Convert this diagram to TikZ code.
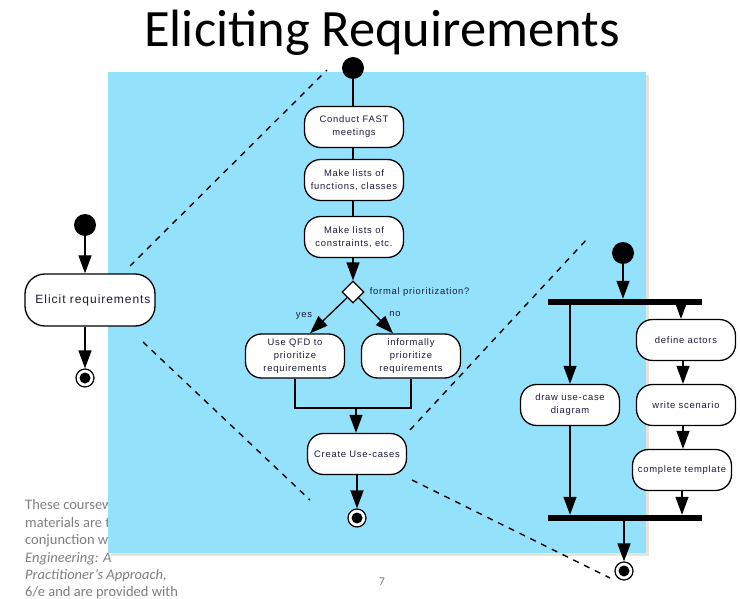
\documentclass[tikz,border=0pt]{standalone}
\usepackage{fontspec}
\setmainfont{Liberation Sans}
\newfontfamily\titlefont{Carlito}
\newfontfamily\actlabel[LetterSpace=8]{Liberation Sans}
\usetikzlibrary{arrows.meta,shapes.geometric}

\definecolor{panelblue}{HTML}{94E1FB}
\definecolor{panelshadow}{HTML}{E4E4DA}
\definecolor{notegray}{HTML}{7F7F7F}
\definecolor{labelink}{HTML}{1C1C3A}

\tikzset{
  act/.style={draw, line width=1.3pt, fill=white, rounded corners=16pt,
    minimum width=99pt, minimum height=41pt, inner sep=2pt, align=center,
    text=labelink, font=\actlabel\fontsize{9.4}{13}\selectfont},
  initial/.style={circle, fill=black, minimum size=22pt, inner sep=0pt},
  final/.style={circle, draw, line width=1.2pt, fill=white, minimum size=18pt,
    inner sep=0pt, path picture={\fill[black] (path picture bounding box.center) circle (5.5pt);}},
  decision/.style={diamond, draw, line width=1.2pt, fill=white,
    minimum width=22pt, minimum height=22pt, inner sep=0pt},
  syncbar/.style={rectangle, fill=black, minimum width=154pt, minimum height=6pt, inner sep=0pt},
  flow/.style={line width=1.3pt},
  arr/.style={line width=1.3pt, -{Triangle[length=18pt,width=13pt]}},
  zoomline/.style={line width=1.4pt, dash pattern=on 6pt off 6pt},
  small/.style={text=labelink, font=\actlabel\fontsize{9.4}{11}\selectfont, inner sep=1pt},
  note/.style={anchor=base west, text=notegray, inner sep=0pt, font=\titlefont\fontsize{14.5}{17}\selectfont},
  noteit/.style={note, font=\titlefont\itshape\fontsize{14.5}{17}\selectfont},
}

\begin{document}
\begin{tikzpicture}[x=1pt, y=-1pt]
\useasboundingbox (0,0) rectangle (740,599);
\fill[white] (0,0) rectangle (740,599);

% slide title
\node[anchor=base, inner sep=0pt, font=\titlefont\fontsize{52.5}{60}\selectfont] (title) at (382,47) {Eliciting Requirements};

% footnote text running underneath the panel
\node[note] (n1) at (25,509) {These coursew};
\node[note] (n2) at (25,527) {materials are t};
\node[note] (n3) at (25,544) {conjunction w};
\node[noteit] (n4) at (25,562) {Engineering: A};
\node[noteit] (n5) at (25,579) {Practitioner’s Approach,};
\node[note] (n6) at (25,596) {6/e and are provided with};
\node[anchor=base, text=notegray, inner sep=0pt, font=\titlefont\fontsize{12}{14}\selectfont] (pageno) at (382,585) {7};

% blue panel with its shadow
\fill[panelshadow] (111,75) rectangle (649,556);
\fill[panelblue] (108,72) rectangle (646,553);

% ---- left: the single activity ----
\node[initial] (l0) at (85,225) {};
\node[act, minimum width=130pt, minimum height=52pt, rounded corners=20pt,
      font=\actlabel\fontsize{12}{14}\selectfont] (elicit) at (90,300) {\hspace*{6pt}Elicit requirements};
\node[final] (lf) at (85,378) {};
\draw[arr] (l0) -- (l0 |- elicit.north);
\draw[arr] (lf |- elicit.south) -- (lf);

% ---- centre: expansion of the activity ----
\node[initial] (c0) at (353,68) {};
\node[act] (fast) at (354,127) {Conduct FAST\\meetings};
\node[act] (lists) at (354,180) {Make lists of\\functions, classes};
\node[act] (cons) at (354,237) {Make lists of\\constraints, etc.};
\node[decision] (dec) at (353,292) {};
\node[small, anchor=west] (declabel) at ([xshift=4pt]dec.east) {formal prioritization?};
\node[act, minimum height=44pt] (qfd) at (295,356) {Use QFD to\\prioritize\\requirements};
\node[act, minimum height=44pt] (inf) at (411,356) {informally\\prioritize\\requirements};
\coordinate (merge) at (356,408);
\node[act] (uc) at (357,454) {Create Use-cases};
\node[final] (cf) at (357,518) {};

\draw[flow] (c0) -- (c0 |- fast.north);
\draw[flow] (c0 |- fast.south) -- (c0 |- lists.north);
\draw[flow] (c0 |- lists.south) -- (c0 |- cons.north);
\draw[arr] (c0 |- cons.south) -- (dec.north);
\draw[arr] (dec) -- ([xshift=15pt]qfd.north);
\draw[arr] (dec) -- ([xshift=-18pt]inf.north);
\node[small] (yes) at (304,316) {yes};
\node[small] (no) at (395,314) {no};
\draw[flow] (qfd.south) -- (qfd.south |- merge) -- (inf.south |- merge) -- (inf.south);
\draw[arr] (merge) -- (merge |- uc.north);
\draw[arr] (cf |- uc.south) -- (cf);

% ---- right: use-case work in parallel ----
\node[initial] (r0) at (623,253) {};
\node[syncbar] (fork) at (625,302) {};
\node[act] (draw) at (570,405) {draw use-case\\diagram};
\node[act] (actors) at (686,340) {define actors};
\node[act] (scen) at (686,405) {write scenario};
\node[act] (tmpl) at (682,470) {complete template};
\node[syncbar] (join) at (625,518) {};
\node[final] (rf) at (624,571) {};

\draw[arr] (r0) -- (r0 |- fork.north);
\draw[arr] (draw |- fork.south) -- (draw.north);
\draw[arr] ([xshift=-5pt]actors.north |- fork.center) -- ([xshift=-5pt]actors.north);
\draw[arr] ([xshift=-3pt]actors.south) -- ([xshift=-3pt]actors.south |- scen.north);
\draw[arr] ([xshift=-3pt]scen.south) -- ([xshift=-3pt]scen.south |- tmpl.north);
\draw[arr] (draw.south) -- (draw.south |- join.north);
\draw[arr] (tmpl.south) -- (tmpl.south |- join.north);
\draw[arr] (rf |- join.south) -- (rf);

% ---- dashed zoom lines ----
\coordinate (z1a) at (130,266);
\coordinate (z1b) at (327,70);
\coordinate (z2a) at (143,342);
\coordinate (z2b) at (310,500);
\coordinate (z3a) at (410,430);
\coordinate (z3b) at (588,238);
\coordinate (z4a) at (412,480);
\coordinate (z4b) at (610,578);
\draw[zoomline] (z1a) -- (z1b);
\draw[zoomline] (z2a) -- (z2b);
\draw[zoomline] (z3a) -- (z3b);
\draw[zoomline] (z4a) -- (z4b);
\end{tikzpicture}
\end{document}
